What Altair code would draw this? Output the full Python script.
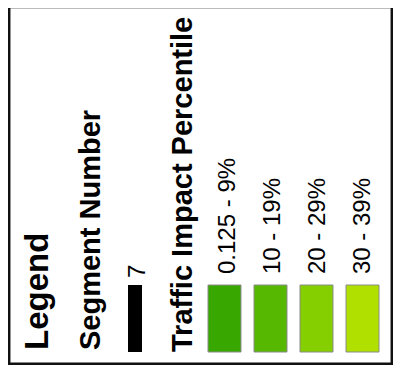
import altair as alt
import pandas as pd

# ---- data ----
legend_title = ["Legend"]
segment_heading = ["Segment Number"]
segment_values = ["7"]
impact_heading = ["Traffic Impact Percentile"]
impact_labels = ["0.125 - 9%", "10 - 19%", "20 - 29%", "30 - 39%"]
impact_colors = ["#38a800", "#56b800", "#85cf00", "#b0e000"]

FONT = "Liberation Sans"
W, H = 385, 357

df_imp = pd.DataFrame({"label": impact_labels, "color": impact_colors})
df_seg = pd.DataFrame({"seg": segment_values})
one = pd.DataFrame({"k": [0]})

frame = alt.Chart(one).mark_rect(color="white").encode(
    x=alt.value(0), x2=alt.value(384), y=alt.value(0), y2=alt.value(356)
)
border_l = alt.Chart(one).mark_rule(color="#111", strokeWidth=2.5).encode(
    x=alt.value(1.2), y=alt.value(0), y2=alt.value(357)
)
border_r = alt.Chart(one).mark_rule(color="#111", strokeWidth=2.5).encode(
    x=alt.value(383.8), y=alt.value(0), y2=alt.value(357)
)
border_b = alt.Chart(one).mark_rule(color="#111", strokeWidth=2.5).encode(
    x=alt.value(0), x2=alt.value(385), y=alt.value(355.8)
)
border_t = alt.Chart(one).mark_rule(color="#bbbbbb", strokeWidth=1).encode(
    x=alt.value(0), x2=alt.value(385), y=alt.value(0.5)
)

def heading(text_list, x, y, size):
    return alt.Chart(pd.DataFrame({"t": text_list})).mark_text(
        angle=270, align="left", baseline="alphabetic", font=FONT,
        fontWeight="bold", fontSize=size, color="black"
    ).encode(text="t:N", x=alt.value(x), y=alt.value(y))

title = heading(legend_title, 40, 342, 33)
seg_head = heading(segment_heading, 92, 342, 29)
imp_head = heading(impact_heading, 184, 344, 29)

seg_bar = alt.Chart(df_seg).mark_rect(color="black").encode(
    x=alt.value(120), x2=alt.value(134), y=alt.value(277), y2=alt.value(344)
)
seg_text = alt.Chart(df_seg).mark_text(
    angle=270, align="left", baseline="alphabetic", font=FONT, fontSize=24, color="black"
).encode(text="seg:N", x=alt.value(137), y=alt.value(270))

swatches = alt.Chart(df_imp).mark_rect(stroke="#8a8a8a", strokeWidth=1).encode(
    x=alt.X("label:N", sort=impact_labels, axis=None,
            scale=alt.Scale(type="band", range=[200, 371], paddingInner=0.283, paddingOuter=0)),
    y=alt.value(277), y2=alt.value(344),
    color=alt.Color("color:N", scale=None, legend=None),
)
labels = alt.Chart(df_imp).mark_text(
    angle=270, align="left", baseline="alphabetic", font=FONT, fontSize=24, color="black"
).encode(
    x=alt.X("label:N", sort=impact_labels, axis=None,
            scale=alt.Scale(type="point", range=[227, 362], padding=0)),
    y=alt.value(266),
    text="label:N",
)

chart = alt.layer(
    frame, border_t, border_l, border_r, border_b, title, seg_head, imp_head,
    seg_bar, seg_text, swatches, labels
).resolve_scale(x="independent").properties(
    width=W, height=H, autosize=alt.AutoSizeParams(type="none"), padding=0,
    background="white"
).configure_view(stroke=None)

chart.save("out.html", embed_options={"renderer": "svg", "actions": False})
